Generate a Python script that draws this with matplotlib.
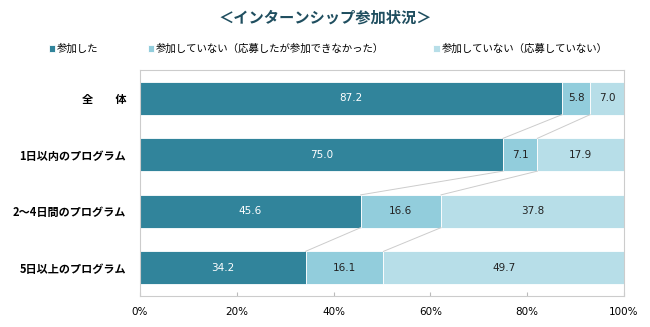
import matplotlib
matplotlib.use("Agg")
import matplotlib.pyplot as plt

plt.rcParams['font.family'] = ['Noto Sans CJK JP', 'DejaVu Sans']

categories = ["全　　体", "1日以内のプログラム", "2～4日間のプログラム", "5日以上のプログラム"]
series_names = ["参加した", "参加していない（応募したが参加できなかった）", "参加していない（応募していない）"]
joined = [87.2, 75.0, 45.6, 34.2]
applied_not = [5.8, 7.1, 16.6, 16.1]
not_applied = [7.0, 17.9, 37.8, 49.7]
colors = ["#31849B", "#92CDDC", "#B7DEE8"]
label_colors = ["white", "#222222", "#222222"]

fig = plt.figure(figsize=(6.5, 3.27), dpi=100)
ax = fig.add_axes([0.2154, 0.0948, 0.7446, 0.6912])

ypos = list(range(len(categories)))
bar_h = 0.58
series = [joined, applied_not, not_applied]
lefts = [0.0] * len(categories)
bars = []
for vals, col, tcol, name in zip(series, colors, label_colors, series_names):
    b = ax.barh(ypos, vals, left=lefts, height=bar_h, color=col, label=name,
                edgecolor="white", linewidth=0.6)
    bars.append(b)
    for y, l, v in zip(ypos, lefts, vals):
        ax.text(l + v / 2, y, f"{v:.1f}", ha="center", va="center",
                color=tcol, fontsize=7.5, family=['Liberation Sans Narrow', 'DejaVu Sans'])
    lefts = [l + v for l, v in zip(lefts, vals)]

# connector lines between bars
cum1 = joined
cum2 = [a + b for a, b in zip(joined, applied_not)]
for cum in (cum1, cum2):
    for i in range(len(categories) - 1):
        ax.plot([cum[i], cum[i + 1]], [ypos[i] + bar_h / 2, ypos[i + 1] - bar_h / 2],
                color="#CCCCCC", linewidth=0.7, zorder=1)

ax.set_xlim(0, 100)
ax.set_ylim(3.5, -0.5)
ax.set_yticks(ypos)
ax.set_yticklabels(categories, fontsize=8, fontweight="bold")
ax.set_xticks([0, 20, 40, 60, 80, 100])
ax.set_xticklabels(["0%", "20%", "40%", "60%", "80%", "100%"], fontsize=7.5,
                   family=['Liberation Sans Narrow', 'DejaVu Sans'])
ax.tick_params(axis="y", length=0, pad=10)
ax.tick_params(axis="x", direction="in", length=3, color="#BBBBBB", pad=8)
for s in ax.spines.values():
    s.set_color("#CCCCCC")
    s.set_linewidth(0.8)

fig.text(0.5, 0.945, "＜インターンシップ参加状況＞", ha="center", va="center",
         fontsize=11, fontweight="bold", color="#1F4E5F")

fig.legend(handles=[b for b in bars], labels=series_names, loc="center",
           bbox_to_anchor=(0.505, 0.85), ncol=3, frameon=False, fontsize=7.5,
           handlelength=0.6, handleheight=0.6, handletextpad=0.2, columnspacing=4.7)

fig.savefig("out.png", dpi=100, facecolor="white")
